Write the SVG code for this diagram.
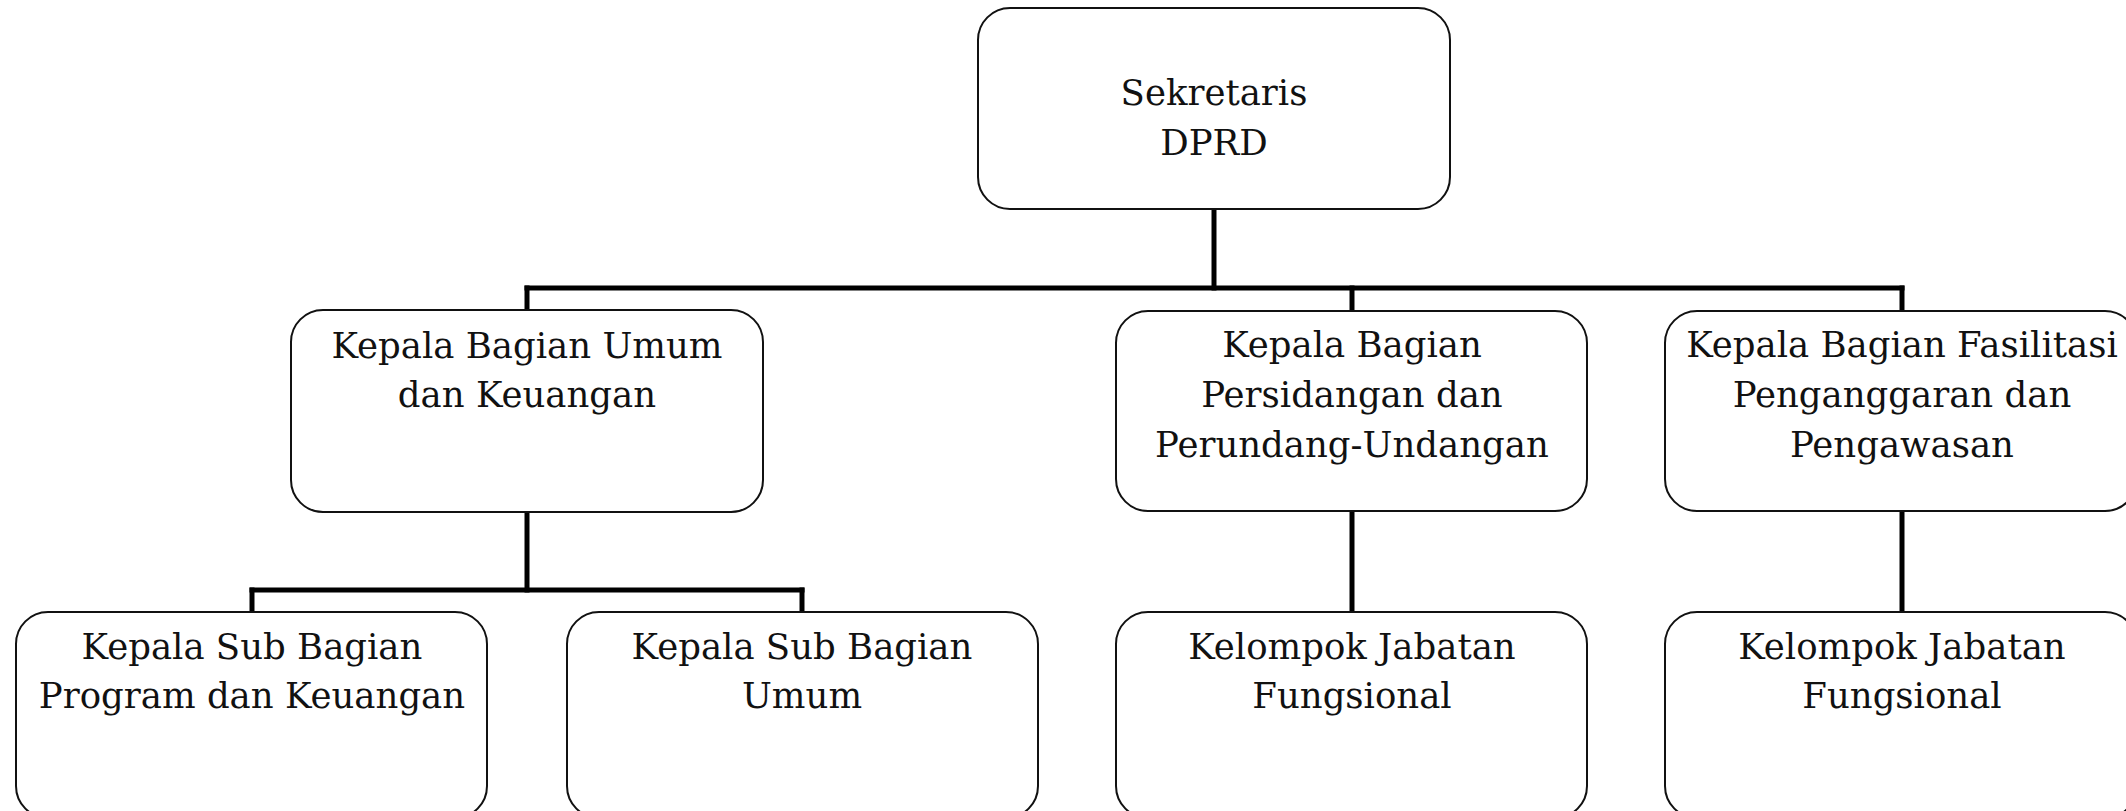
<svg xmlns="http://www.w3.org/2000/svg" width="2126" height="811" viewBox="0 0 2126 811">
<style>
.box{fill:#ffffff;stroke:#111111;stroke-width:2}
.lbl{font-family:"DejaVu Serif","Liberation Serif",serif;font-size:35.5px;fill:#111111;text-anchor:middle}
.conn{stroke:#000000;stroke-width:5;fill:none;stroke-linecap:square}
</style>
<rect width="2126" height="811" fill="#ffffff"/>
<g id="connectors">
<path class="conn" d="M1214 209 V288"/>
<path class="conn" d="M527 288 H1902"/>
<path class="conn" d="M527 288 V310"/>
<path class="conn" d="M1352 288 V311"/>
<path class="conn" d="M1902 288 V311"/>
<path class="conn" d="M527 512 V590"/>
<path class="conn" d="M252 590 H802"/>
<path class="conn" d="M252 590 V612"/>
<path class="conn" d="M802 590 V612"/>
<path class="conn" d="M1352 511 V612"/>
<path class="conn" d="M1902 511 V612"/>
</g>
<g id="sekretaris">
<rect class="box" x="978" y="8" width="472" height="201" rx="32"/>
<text class="lbl" x="1214" y="105">Sekretaris</text>
<text class="lbl" x="1214" y="155">DPRD</text>
</g>
<g id="kabag-umum">
<rect class="box" x="291" y="310" width="472" height="202" rx="32"/>
<text class="lbl" x="527" y="358">Kepala Bagian Umum</text>
<text class="lbl" x="527" y="407">dan Keuangan</text>
</g>
<g id="kabag-persidangan">
<rect class="box" x="1116" y="311" width="471" height="200" rx="32"/>
<text class="lbl" x="1352" y="357">Kepala Bagian</text>
<text class="lbl" x="1352" y="407">Persidangan dan</text>
<text class="lbl" x="1352" y="457">Perundang-Undangan</text>
</g>
<g id="kabag-fasilitasi">
<rect class="box" x="1665" y="311" width="472" height="200" rx="32"/>
<text class="lbl" x="1902" y="357">Kepala Bagian Fasilitasi</text>
<text class="lbl" x="1902" y="407">Penganggaran dan</text>
<text class="lbl" x="1902" y="457">Pengawasan</text>
</g>
<g id="kasubag-program">
<rect class="box" x="16" y="612" width="471" height="206" rx="32"/>
<text class="lbl" x="252" y="659">Kepala Sub Bagian</text>
<text class="lbl" x="252" y="708">Program dan Keuangan</text>
</g>
<g id="kasubag-umum">
<rect class="box" x="567" y="612" width="471" height="206" rx="32"/>
<text class="lbl" x="802" y="659">Kepala Sub Bagian</text>
<text class="lbl" x="802" y="708">Umum</text>
</g>
<g id="jf-persidangan">
<rect class="box" x="1116" y="612" width="471" height="206" rx="32"/>
<text class="lbl" x="1352" y="659">Kelompok Jabatan</text>
<text class="lbl" x="1352" y="708">Fungsional</text>
</g>
<g id="jf-fasilitasi">
<rect class="box" x="1665" y="612" width="472" height="206" rx="32"/>
<text class="lbl" x="1902" y="659">Kelompok Jabatan</text>
<text class="lbl" x="1902" y="708">Fungsional</text>
</g>
</svg>
